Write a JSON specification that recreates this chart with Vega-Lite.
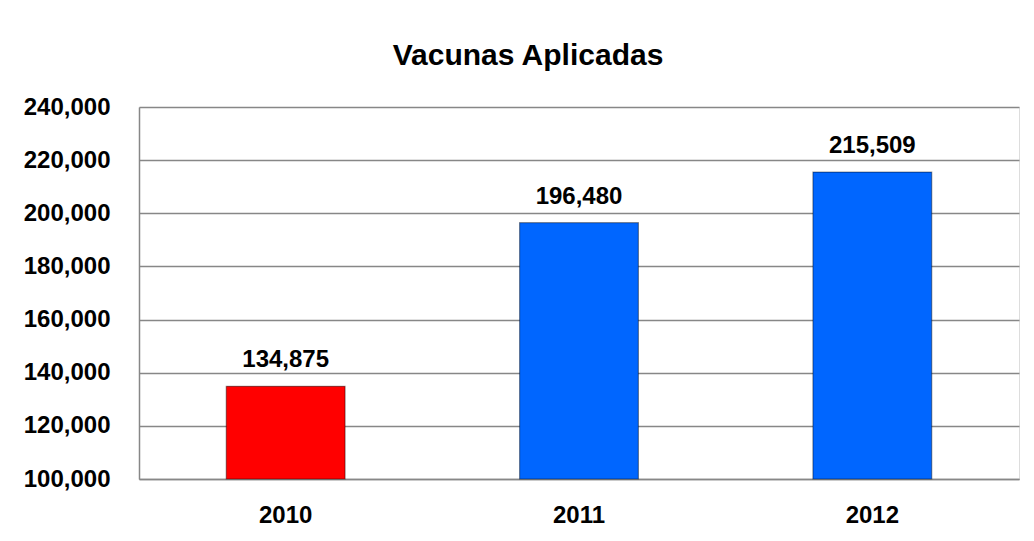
{
  "$schema": "https://vega.github.io/schema/vega-lite/v6.json",
  "autosize": {"type": "none"},
  "width": 880,
  "height": 372,
  "padding": {"left": 139, "top": 107, "right": 15, "bottom": 62},
  "background": "white",
  "title": {
    "text": "Vacunas Aplicadas",
    "font": "Liberation Sans",
    "fontSize": 30,
    "fontWeight": "bold",
    "color": "#000000",
    "anchor": "middle",
    "baseline": "alphabetic",
    "offset": 42,
    "dy": 42,
    "dx": -51
  },
  "data": {
    "values": [
      {"year": "2010", "value": 134875, "grupo": "a"},
      {"year": "2011", "value": 196480, "grupo": "b"},
      {"year": "2012", "value": 215509, "grupo": "b"}
    ]
  },
  "encoding": {
    "x": {
      "field": "year",
      "type": "nominal",
      "scale": {"paddingInner": 0, "paddingOuter": 0},
      "axis": {
        "title": null,
        "labelAngle": 0,
        "labelFont": "Liberation Sans",
        "labelFontSize": 24,
        "labelFontWeight": "bold",
        "labelColor": "#000000",
        "labelPadding": 24,
        "ticks": false,
        "domainColor": "#878787",
        "domainWidth": 1.5
      }
    }
  },
  "layer": [
    {
      "mark": {"type": "bar", "width": {"band": 0.405}, "stroke": "#00000066", "strokeWidth": 1.2},
      "encoding": {
        "y": {
          "field": "value",
          "type": "quantitative",
          "scale": {"domain": [100000, 240000], "nice": false, "zero": false},
          "axis": {
            "title": null,
            "values": [100000, 120000, 140000, 160000, 180000, 200000, 220000, 240000],
            "format": ",d",
            "labelFont": "Liberation Sans",
            "labelFontSize": 24,
            "labelFontWeight": "bold",
            "labelColor": "#000000",
            "labelPadding": 29,
            "ticks": false,
            "grid": true,
            "gridColor": "#878787",
            "gridWidth": 1.5,
            "domainColor": "#878787",
            "domainWidth": 1.5
          }
        },
        "y2": {"datum": 100000},
        "color": {
          "field": "grupo",
          "type": "nominal",
          "scale": {"domain": ["a", "b"], "range": ["#FF0000", "#0066FF"]},
          "legend": null
        }
      }
    },
    {
      "mark": {
        "type": "text",
        "baseline": "alphabetic",
        "dy": -19,
        "font": "Liberation Sans",
        "fontSize": 24,
        "fontWeight": "bold",
        "color": "#000000"
      },
      "encoding": {
        "y": {"field": "value", "type": "quantitative"},
        "text": {"field": "value", "type": "quantitative", "format": ",d"}
      }
    }
  ]
}
